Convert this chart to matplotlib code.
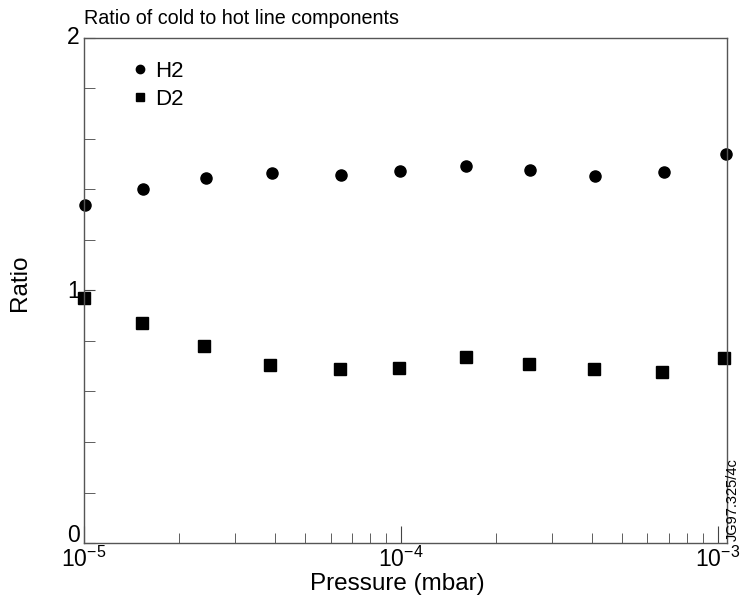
"""Ratio of cold to hot line components vs pressure (H2 / D2)."""
import matplotlib
matplotlib.use("Agg")
import matplotlib.pyplot as plt
from matplotlib.ticker import LogLocator, MultipleLocator, FixedLocator, FixedFormatter
from matplotlib.transforms import ScaledTranslation

plt.rcParams["font.family"] = ["Liberation Sans", "DejaVu Sans"]
plt.rcParams["mathtext.fontset"] = "custom"
plt.rcParams["mathtext.rm"] = "Liberation Sans"
plt.rcParams["mathtext.it"] = "Liberation Sans"

pressure_h2 = [1.01e-5, 1.54e-5, 2.42e-5, 3.91e-5, 6.46e-5, 9.93e-5,
               1.61e-4, 2.56e-4, 4.11e-4, 6.75e-4, 1.06e-3]
ratio_h2 = [1.339, 1.402, 1.446, 1.465, 1.457, 1.473, 1.493, 1.477, 1.453, 1.469, 1.541]

pressure_d2 = [1.0e-5, 1.52e-5, 2.39e-5, 3.87e-5, 6.42e-5, 9.86e-5,
               1.60e-4, 2.54e-4, 4.08e-4, 6.68e-4, 1.05e-3]
ratio_d2 = [0.970, 0.871, 0.780, 0.705, 0.689, 0.693, 0.737, 0.709, 0.689, 0.677, 0.733]

x_ticks = [1e-5, 1e-4, 1e-3]
x_ticklabels = [r"10$^{-5}$", r"10$^{-4}$", r"10$^{-3}$"]
y_ticks = [0, 1, 2]

fig = plt.figure(figsize=(7.4, 6.03), dpi=100)
ax = fig.add_axes([0.1135, 0.0995, 0.869, 0.8375])

ax.plot(pressure_h2, ratio_h2, "o", color="black", markersize=8, label="H2", clip_on=False)
ax.plot(pressure_d2, ratio_d2, "s", color="black", markersize=8.5, label="D2", clip_on=False)

ax.set_xscale("log")
ax.set_xlim(1e-5, 1.07e-3)
ax.set_ylim(0, 2)

ax.xaxis.set_major_locator(FixedLocator(x_ticks))
ax.xaxis.set_major_formatter(FixedFormatter(x_ticklabels))
ax.xaxis.set_minor_locator(LogLocator(base=10, subs=range(2, 10), numticks=20))
ax.set_yticks(y_ticks)
ax.yaxis.set_minor_locator(MultipleLocator(0.2))

ax.tick_params(axis="both", which="both", direction="in", color="#444444",
               labelsize=16.5, top=False, right=False)
ax.tick_params(axis="x", which="major", length=12, pad=3)
ax.tick_params(axis="x", which="minor", length=7, labelbottom=False)
ax.tick_params(axis="y", which="both", length=8, pad=3)
# the y tick labels sit a little above their ticks in the original
for lbl, lift_px in zip(ax.get_yticklabels(), [10, 1, 3]):
    lift = ScaledTranslation(0, lift_px / 100, fig.dpi_scale_trans)
    lbl.set_transform(lbl.get_transform() + lift)

for spine in ax.spines.values():
    spine.set_color("#555555")
    spine.set_linewidth(1.0)

ax.set_xlabel("Pressure (mbar)", fontsize=17.5)
ax.xaxis.set_label_coords(0.488, -0.06)
ax.set_ylabel("Ratio", fontsize=17.5)
ax.yaxis.set_label_coords(-0.082, 0.515)
ax.set_title("Ratio of cold to hot line components", fontsize=14.2, loc="left", pad=10)

ax.legend(loc="upper left", frameon=False, fontsize=16, handlelength=0.6,
          handletextpad=0.35, markerscale=0.75, borderaxespad=0.3,
          bbox_to_anchor=(0.053, 0.985), labelspacing=0.32)

fig.text(1.0, 0.103, "JG97.325/4c", rotation=90, fontsize=10.5, ha="right", va="bottom")

fig.savefig("out.png", dpi=100)
